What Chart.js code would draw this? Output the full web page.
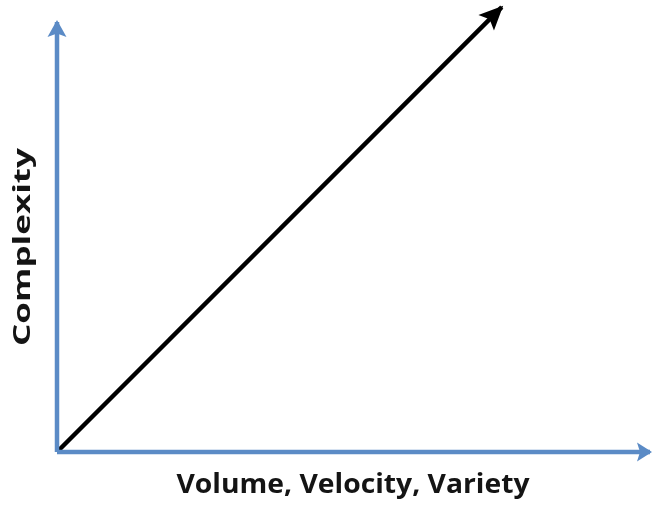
<!DOCTYPE html>
<html>
<head>
<meta charset="utf-8">
<script src="https://cdn.jsdelivr.net/npm/chart.js@4"></script>
<style>
  html, body { margin: 0; padding: 0; background: #ffffff; }
  #wrap { width: 654px; height: 509px; }
</style>
</head>
<body>
<div id="wrap"><canvas id="c"></canvas></div>
<script>
// Conceptual chart: complexity grows with volume, velocity, variety
const xAxisTitle = "Volume, Velocity, Variety";
const yAxisTitle = "Complexity";
const trendX = [0, 75];
const trendY = [0, 108.5];
const xAxisX = [0, 100];
const xAxisY = [0, 0];
const yAxisX = [0, 0];
const yAxisY = [0, 104.9];

const toPoints = (xs, ys) => xs.map((x, i) => ({ x: x, y: ys[i] }));

const arrowPlugin = {
  id: 'arrowHeads',
  afterDatasetsDraw(chart) {
    const ctx = chart.ctx;
    chart.data.datasets.forEach((ds, i) => {
      if (!ds.arrow) return;
      const pts = chart.getDatasetMeta(i).data;
      const a = pts[pts.length - 2], b = pts[pts.length - 1];
      const ang = Math.atan2(b.y - a.y, b.x - a.x);
      const L = ds.arrow.length, W = ds.arrow.width;
      const tx = b.x + Math.cos(ang) * 2, ty = b.y + Math.sin(ang) * 2;
      ctx.save();
      ctx.translate(tx, ty);
      ctx.rotate(ang);
      ctx.beginPath();
      ctx.moveTo(0, 0);
      ctx.lineTo(-L, -W / 2);
      ctx.lineTo(-L * 0.8, 0);
      ctx.lineTo(-L, W / 2);
      ctx.closePath();
      ctx.fillStyle = ds.borderColor;
      ctx.fill();
      ctx.restore();
    });
  }
};

// Axis titles (stretched like the reference figure)
const titlePlugin = {
  id: 'axisTitles',
  afterDraw(chart) {
    const ctx = chart.ctx;
    const ca = chart.chartArea;
    ctx.save();
    ctx.fillStyle = '#141414';
    ctx.textAlign = 'center';
    ctx.textBaseline = 'alphabetic';
    // x title
    ctx.font = 'bold 26px "Open Sans"';
    let w = ctx.measureText(xAxisTitle).width;
    ctx.save();
    ctx.translate(ca.left + (ca.right - ca.left) / 2 - 0.5, ca.bottom + 41);
    ctx.scale(353 / w, 1);
    ctx.fillText(xAxisTitle, 0, 0);
    ctx.restore();
    // y title
    ctx.font = 'bold 24px "Open Sans"';
    w = ctx.measureText(yAxisTitle).width;
    ctx.save();
    ctx.translate(ca.left - 27, ca.top + (ca.bottom - ca.top) / 2);
    ctx.rotate(-Math.PI / 2);
    ctx.scale(198 / w, 1);
    ctx.fillText(yAxisTitle, 0, 0);
    ctx.restore();
    ctx.restore();
  }
};

const blue = '#5b8bc6';
new Chart(document.getElementById('c'), {
  type: 'scatter',
  data: {
    datasets: [
      { data: toPoints(xAxisX, xAxisY), showLine: true, borderColor: blue, borderWidth: 4.5,
        pointRadius: 0, clip: false, arrow: { length: 15, width: 19 } },
      { data: toPoints(yAxisX, yAxisY), showLine: true, borderColor: blue, borderWidth: 4.5,
        pointRadius: 0, clip: false, arrow: { length: 17, width: 19 } },
      { data: toPoints(trendX, trendY), showLine: true, borderColor: '#000000', borderWidth: 4.5,
        pointRadius: 0, clip: false, arrow: { length: 24, width: 22 } }
    ]
  },
  options: {
    responsive: true,
    maintainAspectRatio: false,
    animation: false,
    events: [],
    layout: { padding: { left: 57, right: 4, top: 42, bottom: 57 } },
    plugins: { legend: { display: false }, tooltip: { enabled: false } },
    scales: {
      x: { type: 'linear', min: 0, max: 100, display: false },
      y: { type: 'linear', min: 0, max: 100, display: false }
    }
  },
  plugins: [arrowPlugin, titlePlugin]
});
</script>
</body>
</html>
